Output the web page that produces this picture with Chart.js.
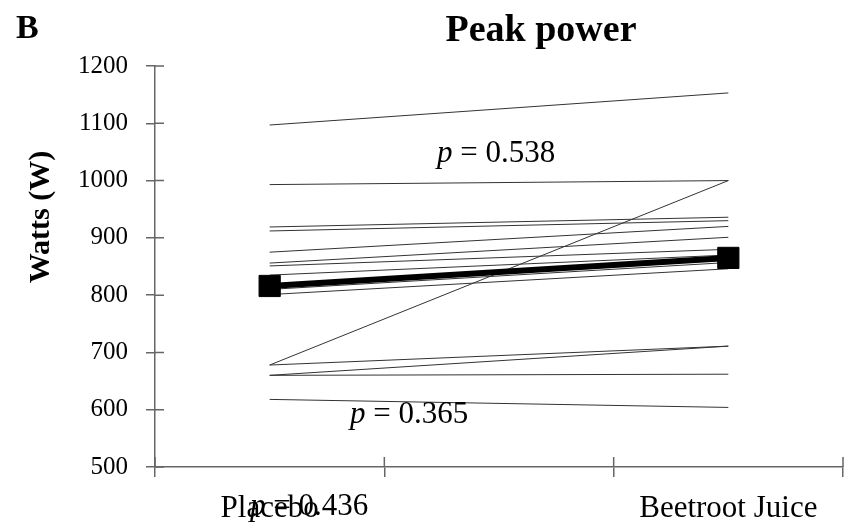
<!doctype html>
<html lang="en">
  <head>
    <meta charset="utf-8">
    <title>Peak power</title>
    <script src="https://cdn.jsdelivr.net/npm/chart.js"></script>
    <style>
        html, body { margin: 0; padding: 0; background: #ffffff; }
        #wrap { width: 850px; height: 529px; position: relative; }
    </style>
  </head>
  <body>
    <div id="wrap"><canvas id="peakChart"></canvas></div>
    <script>
        // conditions on the x axis (middle slot left blank so the lines span it)
        const conditions = ['Placebo', '', 'Beetroot Juice'];

        // one subject per entry: watts under placebo and under beetroot juice
        const placebo  = [1097, 993, 919, 912, 875, 856, 851, 835, 810, 801, 678, 678, 660, 660, 618];
        const beetroot = [1153, 1000, 936, 930, 920, 901, 880, 870, 857, 846, 1000, 711, 711, 662, 604];

        // group mean
        const meanPlacebo = 816;
        const meanBeetroot = 865;

        const yTicks = [500, 600, 700, 800, 900, 1000, 1100, 1200];

        const serif = '"Liberation Serif", "DejaVu Serif", serif';
        const axisGrey = '#666666';

        const datasets = [{
            label: 'Mean',
            data: [meanPlacebo, null, meanBeetroot],
            spanGaps: true,
            borderColor: '#000000',
            borderWidth: 6,
            pointStyle: 'rect',
            pointRadius: 15,
            pointBorderWidth: 1,
            pointBackgroundColor: '#000000',
            pointBorderColor: '#000000'
        }];
        placebo.forEach((v, i) => {
            datasets.push({
                label: 'Subject ' + (i + 1),
                data: [v, null, beetroot[i]],
                spanGaps: true,
                borderColor: '#333333',
                borderWidth: 1,
                pointRadius: 0
            });
        });

        // tick marks cross the axis lines, so draw the inner half here
        const innerTicks = {
            id: 'innerTicks',
            afterDraw(chart) {
                const c = chart.ctx, a = chart.chartArea;
                const x = chart.scales.x, y = chart.scales.y;
                c.save();
                c.strokeStyle = axisGrey;
                c.lineWidth = 1.5;
                c.beginPath();
                yTicks.forEach(t => {
                    const py = y.getPixelForValue(t);
                    c.moveTo(a.left, py);
                    c.lineTo(a.left + 9, py);
                });
                [-0.5, 0.5, 1.5, 2.5].forEach(t => {
                    const px = x.getPixelForValue(t);
                    c.moveTo(px, a.bottom);
                    c.lineTo(px, a.bottom - 10);
                });
                c.stroke();
                c.restore();
            }
        };

        // panel letter, title, axis title and p values
        const labels = {
            id: 'labels',
            afterDraw(chart) {
                const c = chart.ctx;
                c.save();
                c.fillStyle = '#000000';
                c.textBaseline = 'alphabetic';

                c.font = 'bold 34px ' + serif;
                c.textAlign = 'left';
                c.fillText('B', 16, 38);

                c.font = 'bold 38px ' + serif;
                c.textAlign = 'center';
                c.fillText('Peak power', 541, 41);

                c.save();
                c.translate(49, 217);
                c.rotate(-Math.PI / 2);
                c.font = 'bold 30px ' + serif;
                c.fillText('Watts (W)', 0, 0);
                c.restore();

                const pValue = (text, x, y) => {
                    c.textAlign = 'left';
                    c.font = 'italic 31px ' + serif;
                    c.fillText('p', x, y);
                    const w = c.measureText('p').width;
                    c.font = '31px ' + serif;
                    c.fillText(' = ' + text, x + w, y);
                };
                pValue('0.538', 437, 162);
                pValue('0.365', 350, 423);
                pValue('0.436', 250, 515);
                c.restore();
            }
        };

        new Chart(document.getElementById('peakChart'), {
            type: 'line',
            data: { labels: conditions, datasets: datasets },
            plugins: [innerTicks, labels],
            options: {
                responsive: true,
                maintainAspectRatio: false,
                animation: false,
                layout: { autoPadding: false, padding: { left: 0, right: 7, top: 66, bottom: 0 } },
                plugins: {
                    legend: { display: false },
                    tooltip: { enabled: false },
                    title: { display: false }
                },
                scales: {
                    x: {
                        type: 'category',
                        offset: true,
                        afterFit(scale) {
                            scale.height = 62;
                            scale.paddingLeft = 0;
                            scale.paddingRight = 0;
                        },
                        grid: { offset: true, drawOnChartArea: false, drawTicks: true, tickLength: 10, color: axisGrey, lineWidth: 1.5 },
                        border: { display: true, color: axisGrey, width: 1.5 },
                        ticks: { color: '#000000', padding: 13, maxRotation: 0, font: { family: serif, size: 31 } }
                    },
                    y: {
                        min: 500,
                        max: 1200,
                        afterFit(scale) {
                            scale.width = 155;
                            scale.paddingTop = 0;
                            scale.paddingBottom = 0;
                        },
                        afterBuildTicks(scale) { scale.ticks = yTicks.map(v => ({ value: v })); },
                        grid: { drawOnChartArea: false, drawTicks: true, tickLength: 9, color: axisGrey, lineWidth: 1.5 },
                        border: { display: true, color: axisGrey, width: 1.5 },
                        ticks: {
                            color: '#000000',
                            padding: 18,
                            font: { family: serif, size: 25 },
                            callback: v => String(v)
                        }
                    }
                }
            }
        });
    </script>
  </body>
</html>
